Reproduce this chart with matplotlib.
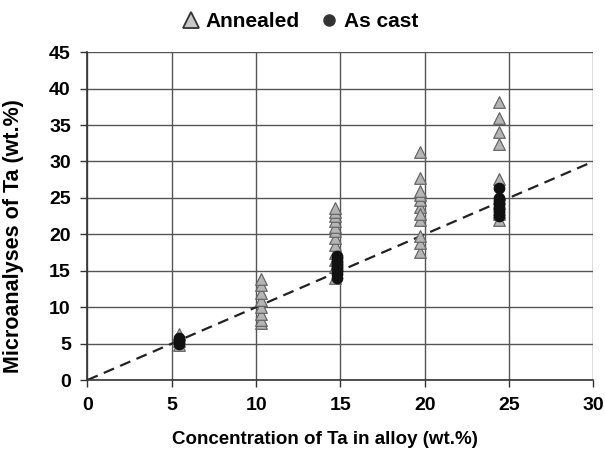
import numpy as np
import matplotlib.pyplot as plt
from matplotlib.lines import Line2D

plt.rcParams['font.family'] = ['Liberation Sans', 'DejaVu Sans']
plt.rcParams['font.weight'] = 'bold'

# Dados
annealed_x = [5.4] * 4 + [10.3] * 8 + [14.7] * 12 + [19.7] * 11 + [24.4] * 11
annealed_y = [4.8, 5.3, 5.8, 6.3,
              7.8, 8.3, 9.0, 10.0, 11.0, 12.0, 13.0, 13.8,
              14.0, 15.5, 16.5, 17.5, 18.5, 19.5, 20.5, 21.0, 21.8, 22.5, 23.0, 23.6,
              17.6, 18.8, 19.8, 22.0, 23.7, 24.7, 25.4, 26.0, 27.7, 31.3, 22.8,
              22.0, 22.8, 23.5, 24.3, 25.0, 27.6, 32.4, 34.0, 36.0, 38.2, 23.0]

cast_x = [5.4] * 4 + [14.8] * 10 + [24.4] * 8
cast_y = [5.0, 5.3, 5.5, 5.7,
          14.0, 14.5, 14.9, 15.2, 15.5, 15.8, 16.1, 16.4, 16.7, 17.0,
          22.5, 23.0, 23.4, 23.8, 24.2, 24.6, 25.0, 26.4]

linha_x = [0, 30]
linha_y = [0, 30]

fig = plt.figure(figsize=(6.05, 4.61), dpi=100)
ax = fig.add_axes([0.1446, 0.1757, 0.836, 0.711])

ax.grid(True, color='#555555', linewidth=1.0)
ax.set_axisbelow(True)

ax.plot(linha_x, linha_y, color='#222222', linestyle=(0, (5, 3)), linewidth=1.6, zorder=2)

ax.scatter(annealed_x, annealed_y, marker='^', s=70, facecolor='#b5b5b5',
           edgecolor='#666666', linewidth=0.9, zorder=3)
ax.scatter(cast_x, cast_y, marker='o', s=55, facecolor='#111111',
           edgecolor='#111111', zorder=4)

ax.set_xlim(0, 30)
ax.set_ylim(0, 45)
ax.set_xticks(np.arange(0, 31, 5))
ax.set_yticks(np.arange(0, 46, 5))
ax.tick_params(axis='both', labelsize=14, color='#333333', length=5, width=1, pad=7)
for s in ['top', 'right']:
    ax.spines[s].set_visible(False)
for s in ['left', 'bottom']:
    ax.spines[s].set_color('#333333')
    ax.spines[s].set_linewidth(1.2)

ax.set_xlabel('Concentration of Ta in alloy (wt.%)', fontsize=13.5, fontweight='bold')
ax.xaxis.set_label_coords(0.47, -0.155)
ax.set_ylabel('Microanalyses of Ta (wt.%)', fontsize=15.5, fontweight='bold')
ax.yaxis.set_label_coords(-0.125, 0.44)

# legenda
handles = [
    Line2D([], [], linestyle='none', marker='^', markersize=12, markerfacecolor='#c8c8c8',
           markeredgecolor='#333333', markeredgewidth=1.3, label='Annealed'),
    Line2D([], [], linestyle='none', marker='o', markersize=8, markerfacecolor='#333333',
           markeredgecolor='#333333', label='As cast'),
]
fig.legend(handles=handles, loc='upper center', bbox_to_anchor=(0.495, 1.015), ncol=2,
           frameon=False, fontsize=15, handlelength=1.0, handletextpad=0.2, columnspacing=0.9)

plt.savefig('out.png', dpi=100)
